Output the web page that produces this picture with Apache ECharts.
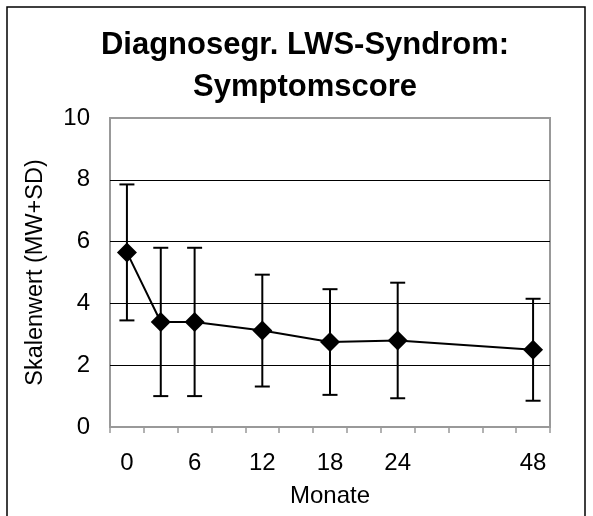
<!DOCTYPE html>
<html>
<head>
<meta charset="utf-8">
<script src="https://cdn.jsdelivr.net/npm/echarts@6/dist/echarts.min.js"></script>
<style>
  html, body { margin: 0; padding: 0; background: #fff; }
  #chart { width: 593px; height: 516px; }
</style>
</head>
<body>
<div id="chart"></div>
<script>
(function () {
  // 13 Kategorien, nur ein Teil beschriftet
  var months = ['0', '', '6', '', '12', '', '18', '', '24', '', '', '', '48'];
  var meanScore = [5.65, 3.4, 3.4, null, 3.12, null, 2.75, null, 2.8, null, null, null, 2.5];
  var sdScore = [2.2, 2.4, 2.4, null, 1.81, null, 1.71, null, 1.87, null, null, null, 1.65];
  var yTicks = [0, 2, 4, 6, 8, 10];
  var titleLines = ['Diagnosegr. LWS-Syndrom:', 'Symptomscore'];

  var font = 'Liberation Sans, Arial, sans-serif';
  var ink = '#000';
  var frame = '#999';

  var errData = [];
  for (var i = 0; i < months.length; i++) {
    if (meanScore[i] != null) {
      errData.push([i, meanScore[i] - sdScore[i], meanScore[i] + sdScore[i]]);
    }
  }

  var chart = echarts.init(document.getElementById('chart'), null, { renderer: 'canvas' });
  chart.setOption({
    animation: false,
    backgroundColor: '#fff',
    textStyle: { fontFamily: font },
    graphic: [
      {
        type: 'rect',
        shape: { x: 7, y: 7, width: 578, height: 530 },
        style: { fill: 'none', stroke: ink, lineWidth: 1.5 },
        silent: true
      },
      {
        type: 'text',
        x: 305, y: 45,
        style: {
          text: titleLines[0], fill: ink, align: 'center', verticalAlign: 'middle',
          font: 'bold 31px ' + font
        }
      },
      {
        type: 'text',
        x: 305, y: 87,
        style: {
          text: titleLines[1], fill: ink, align: 'center', verticalAlign: 'middle',
          font: 'bold 31px ' + font
        }
      }
    ],
    grid: {
      left: 110, right: 43, top: 118, bottom: 89,
      show: true, borderColor: frame, borderWidth: 2, backgroundColor: 'transparent'
    },
    xAxis: {
      type: 'category',
      data: months,
      boundaryGap: true,
      name: 'Monate',
      nameLocation: 'middle',
      nameGap: 57,
      nameTextStyle: { fontFamily: font, fontSize: 24, color: ink },
      axisLine: { show: false },
      axisTick: { show: true, interval: 0, length: 6, lineStyle: { color: frame, width: 1.5 } },
      axisLabel: { interval: 0, margin: 24, fontFamily: font, fontSize: 24, color: ink },
      splitLine: { show: false }
    },
    yAxis: {
      type: 'value',
      min: yTicks[0],
      max: yTicks[yTicks.length - 1],
      interval: 2,
      name: 'Skalenwert (MW+SD)',
      nameLocation: 'middle',
      nameGap: 62,
      nameTextStyle: { fontFamily: font, fontSize: 23.5, color: ink },
      axisLine: { show: false },
      axisTick: { show: false },
      axisLabel: { margin: 20, fontFamily: font, fontSize: 24, color: ink },
      splitLine: { showMinLine: false, showMaxLine: false, lineStyle: { color: ink, width: 1 } }
    },
    series: [
      {
        type: 'custom',
        name: 'SD',
        z: 2,
        data: errData,
        renderItem: function (params, api) {
          var x = api.value(0);
          var lo = api.coord([x, api.value(1)]);
          var hi = api.coord([x, api.value(2)]);
          var cap = 7.5;
          var st = { stroke: ink, lineWidth: 2 };
          return {
            type: 'group',
            children: [
              { type: 'line', shape: { x1: lo[0], y1: lo[1], x2: hi[0], y2: hi[1] }, style: st },
              { type: 'line', shape: { x1: lo[0] - cap, y1: lo[1], x2: lo[0] + cap, y2: lo[1] }, style: st },
              { type: 'line', shape: { x1: hi[0] - cap, y1: hi[1], x2: hi[0] + cap, y2: hi[1] }, style: st }
            ]
          };
        }
      },
      {
        type: 'line',
        name: 'MW',
        z: 3,
        data: meanScore,
        connectNulls: true,
        symbol: 'diamond',
        symbolSize: [20, 20],
        showAllSymbol: true,
        lineStyle: { color: ink, width: 2 },
        itemStyle: { color: ink }
      }
    ]
  });
})();
</script>
</body>
</html>
